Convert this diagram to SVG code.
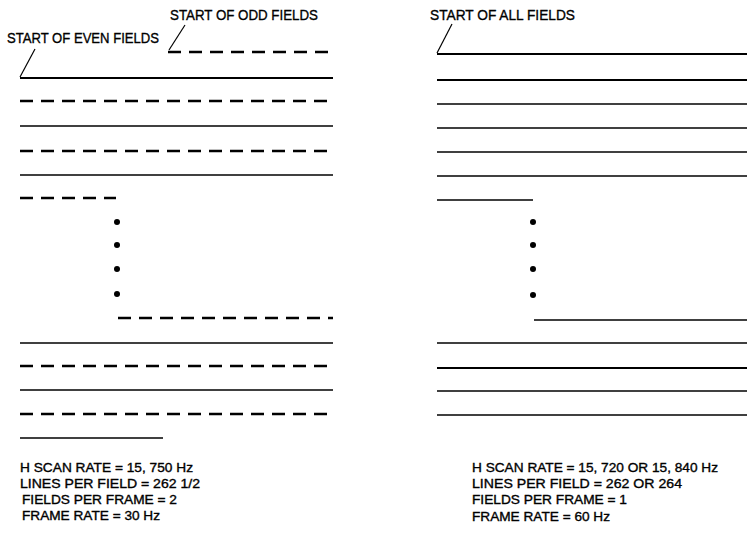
<svg xmlns="http://www.w3.org/2000/svg" width="750" height="537" viewBox="0 0 750 537">
<style>
text{font-family:"Liberation Sans","DejaVu Sans",sans-serif;fill:#000;stroke:#000;stroke-width:0.35}
.h{font-size:15.5px}
.t{font-size:13px}
.s{stroke:#000;stroke-width:1.6;fill:none}
.th{stroke:#000;stroke-width:2.2;fill:none}
.d{stroke:#000;stroke-width:2.3;fill:none;stroke-dasharray:13 8}
.p{stroke:#000;stroke-width:1.2;fill:none}
.dot{fill:#000}
</style>
<rect width="750" height="537" fill="#fff"/>
<g id="interlaced">
  <g id="labels-left">
    <text class="h" x="170" y="20" textLength="148" lengthAdjust="spacingAndGlyphs">START OF ODD FIELDS</text>
    <text class="h" x="7" y="43" textLength="152" lengthAdjust="spacingAndGlyphs">START OF EVEN FIELDS</text>
    <line class="p" x1="185" y1="25" x2="169" y2="50"/>
    <line class="p" x1="35" y1="49" x2="20" y2="77"/>
  </g>
  <g id="lines-left">
    <line class="d" x1="168" y1="52" x2="333" y2="52"/>
    <line class="th" x1="20" y1="78" x2="333" y2="78"/>
    <line class="d" x1="20" y1="101" x2="333" y2="101"/>
    <line class="s" x1="20" y1="126" x2="333" y2="126"/>
    <line class="d" x1="20" y1="151" x2="333" y2="151"/>
    <line class="s" x1="20" y1="175" x2="333" y2="175"/>
    <line class="d" x1="20" y1="198" x2="116" y2="198"/>
    <circle class="dot" cx="117" cy="222" r="3"/>
    <circle class="dot" cx="117" cy="245" r="3"/>
    <circle class="dot" cx="117" cy="269" r="3"/>
    <circle class="dot" cx="117" cy="294" r="3"/>
    <line class="d" x1="118" y1="318" x2="333" y2="318"/>
    <line class="s" x1="20" y1="343" x2="333" y2="343"/>
    <line class="d" x1="20" y1="366" x2="333" y2="366"/>
    <line class="s" x1="20" y1="390" x2="333" y2="390"/>
    <line class="d" x1="20" y1="414" x2="333" y2="414"/>
    <line class="s" x1="20" y1="438" x2="163" y2="438"/>
  </g>
  <g id="specs-left">
    <text class="t" x="20" y="472" textLength="173" lengthAdjust="spacingAndGlyphs">H SCAN RATE = 15, 750 Hz</text>
    <text class="t" x="20" y="488" textLength="180" lengthAdjust="spacingAndGlyphs">LINES PER FIELD = 262 1/2</text>
    <text class="t" x="22" y="504" textLength="155" lengthAdjust="spacingAndGlyphs">FIELDS PER FRAME = 2</text>
    <text class="t" x="22" y="520" textLength="138" lengthAdjust="spacingAndGlyphs">FRAME RATE = 30 Hz</text>
  </g>
</g>
<g id="noninterlaced">
  <g id="labels-right">
    <text class="h" x="430" y="20" textLength="145" lengthAdjust="spacingAndGlyphs">START OF ALL FIELDS</text>
    <line class="p" x1="452" y1="24" x2="437" y2="53"/>
  </g>
  <g id="lines-right">
    <line class="th" x1="437" y1="54" x2="747" y2="54"/>
    <line class="th" x1="437" y1="80" x2="747" y2="80"/>
    <line class="s" x1="437" y1="104" x2="747" y2="104"/>
    <line class="s" x1="437" y1="128" x2="747" y2="128"/>
    <line class="s" x1="437" y1="152" x2="747" y2="152"/>
    <line class="s" x1="437" y1="176" x2="747" y2="176"/>
    <line class="s" x1="437" y1="200" x2="533" y2="200"/>
    <circle class="dot" cx="533" cy="222" r="3"/>
    <circle class="dot" cx="533" cy="245" r="3"/>
    <circle class="dot" cx="533" cy="269" r="3"/>
    <circle class="dot" cx="533" cy="295" r="3"/>
    <line class="s" x1="534" y1="320" x2="747" y2="320"/>
    <line class="s" x1="437" y1="343" x2="747" y2="343"/>
    <line class="th" x1="437" y1="368" x2="747" y2="368"/>
    <line class="s" x1="437" y1="391" x2="747" y2="391"/>
    <line class="s" x1="437" y1="415" x2="747" y2="415"/>
  </g>
  <g id="specs-right">
    <text class="t" x="472" y="472" textLength="246" lengthAdjust="spacingAndGlyphs">H SCAN RATE = 15, 720 OR  15, 840 Hz</text>
    <text class="t" x="472" y="488" textLength="210" lengthAdjust="spacingAndGlyphs">LINES PER FIELD  = 262 OR 264</text>
    <text class="t" x="472" y="504" textLength="155" lengthAdjust="spacingAndGlyphs">FIELDS PER FRAME = 1</text>
    <text class="t" x="472" y="521" textLength="138" lengthAdjust="spacingAndGlyphs">FRAME RATE = 60 Hz</text>
  </g>
</g>
</svg>
